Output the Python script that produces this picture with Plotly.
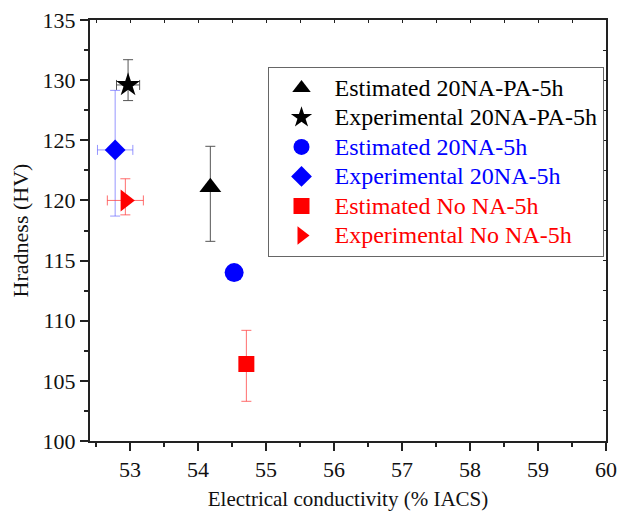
import plotly.graph_objects as go

# ---- data ----
names = ["Estimated 20NA-PA-5h", "Experimental 20NA-PA-5h", "Estimated 20NA-5h",
         "Experimental 20NA-5h", "Estimated No NA-5h", "Experimental No NA-5h"]
cond = [54.18, 52.97, 54.53, 52.78, 54.71, 52.93]          # % IACS
hard = [121.1, 129.6, 114.0, 124.2, 106.4, 120.0]          # HV
hard_err_plus = [3.4, 2.1, None, 4.95, 2.8, 1.8]
hard_err_minus = [4.5, 1.3, None, 5.5, 3.1, 1.2]
cond_err = [None, 0.17, None, 0.26, None, 0.265]

symbols = ["triangle-up", "star", "circle", "diamond", "square", "triangle-right"]
colors = ["#000000", "#000000", "#0000ff", "#0000ff", "#ff0000", "#ff0000"]
err_colors = ["#555555", "#555555", "rgba(80,80,255,0.6)", "rgba(80,80,255,0.6)",
              "rgba(255,60,60,0.75)", "rgba(255,60,60,0.75)"]
sizes = [19, 18, 19, 16, 16, 19]

x_ticks = [53, 54, 55, 56, 57, 58, 59, 60]
y_ticks = [100, 105, 110, 115, 120, 125, 130, 135]

FONT = "Liberation Serif"

fig = go.Figure()
for i in range(len(names)):
    kw = {}
    if hard_err_plus[i] is not None:
        kw["error_y"] = dict(type="data", symmetric=False, array=[hard_err_plus[i]],
                             arrayminus=[hard_err_minus[i]], color=err_colors[i],
                             thickness=1, width=5)
    if cond_err[i] is not None:
        kw["error_x"] = dict(type="data", array=[cond_err[i]], color=err_colors[i],
                             thickness=1, width=5)
    fig.add_trace(go.Scatter(
        x=[cond[i]], y=[hard[i]], mode="markers",
        name=f'<span style="color:{colors[i]};font-size:24px">{names[i]}</span>',
        marker=dict(symbol=symbols[i], color=colors[i], size=sizes[i], line=dict(width=0)),
        **kw))

# empty trace to activate the mirrored (top/right) tick axes
fig.add_trace(go.Scatter(x=[], y=[], xaxis="x2", yaxis="y2", showlegend=False))

xr = [52.41, 60.0]
yr = [100, 135]
axis_line = dict(showline=True, linecolor="#222222", linewidth=2, mirror=True,
                 showgrid=False, zeroline=False)

fig.update_layout(
    width=620, height=517,
    margin=dict(l=90, r=14, t=20, b=76, autoexpand=False),
    paper_bgcolor="white", plot_bgcolor="white",
    font=dict(family=FONT, size=22, color="#111111"),
    showlegend=True,
    legend=dict(x=0.344, y=0.888, xanchor="left", yanchor="top",
                bordercolor="#666666", borderwidth=1, bgcolor="white",
                font=dict(family=FONT, size=20.4), itemwidth=56,
                tracegroupgap=0),
    xaxis=dict(range=xr, tickvals=x_ticks, ticks="outside", ticklen=8, tickwidth=1.5,
               tickcolor="#222222",
               minor=dict(dtick=0.5, tick0=52.5, ticks="outside", ticklen=4, tickwidth=1.5,
                          tickcolor="#222222"),
               tickfont=dict(size=22),
               title=dict(text="Electrical conductivity (% IACS)", font=dict(size=21), standoff=10),
               **axis_line),
    yaxis=dict(range=yr, tickvals=y_ticks, ticks="outside", ticklen=8, tickwidth=1.5,
               tickcolor="#222222",
               minor=dict(dtick=2.5, tick0=100, ticks="outside", ticklen=4, tickwidth=1.5,
                          tickcolor="#222222"),
               tickfont=dict(size=22),
               title=dict(text="Hradness (HV)", font=dict(size=22), standoff=8),
               **axis_line),
    xaxis2=dict(overlaying="x", side="top", range=xr, anchor="y2",
                tickvals=x_ticks, ticks="inside", ticklen=3, tickcolor="#222222",
                minor=dict(dtick=0.5, tick0=52.5, ticks="inside", ticklen=3, tickcolor="#222222"),
                showticklabels=False, showgrid=False, zeroline=False, showline=False),
    yaxis2=dict(overlaying="y", side="right", range=yr, anchor="x2",
                tickvals=y_ticks, ticks="inside", ticklen=3, tickcolor="#222222",
                minor=dict(dtick=2.5, tick0=100, ticks="inside", ticklen=3, tickcolor="#222222"),
                showticklabels=False, showgrid=False, zeroline=False, showline=False),
)

fig.write_html("out.html")
